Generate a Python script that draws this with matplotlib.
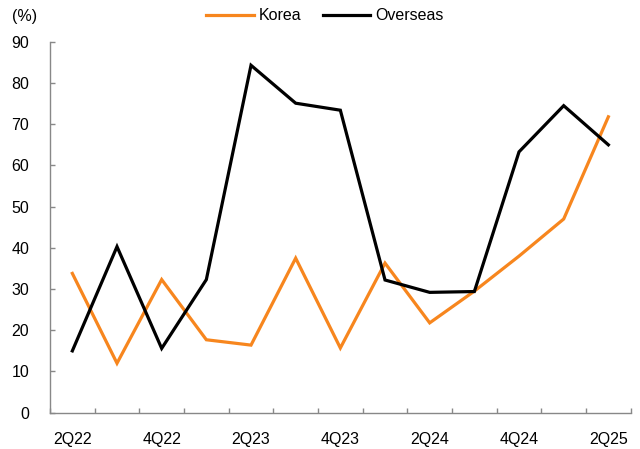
import matplotlib
matplotlib.use("Agg")
import matplotlib.pyplot as plt
import numpy as np

plt.rcParams['font.family'] = ['Liberation Sans', 'DejaVu Sans']

quarters = ["2Q22", "3Q22", "4Q22", "1Q23", "2Q23", "3Q23", "4Q23",
            "1Q24", "2Q24", "3Q24", "4Q24", "1Q25", "2Q25"]
korea = [33.8, 12.0, 32.3, 17.7, 16.4, 37.5, 15.7, 36.3, 21.8, 29.5, 38.0, 47.0, 71.8]
overseas = [15.0, 40.3, 15.6, 32.3, 84.3, 75.1, 73.4, 32.2, 29.2, 29.4, 63.3, 74.5, 65.0]
yticks = [0, 10, 20, 30, 40, 50, 60, 70, 80, 90]

fig = plt.figure(figsize=(6.4, 4.49), dpi=100)
ax = fig.add_axes([50/640, 1-412.7/449, 580.7/640, (412.7-41.8)/449])

x = np.arange(len(quarters))
ax.plot(x, korea, color='#F7861E', lw=2.3, label='Korea', solid_joinstyle='miter')
ax.plot(x, overseas, color='#000000', lw=2.3, label='Overseas', solid_joinstyle='miter')

ax.set_xlim(-0.5, len(quarters) - 0.5)
ax.set_ylim(0, 90)
ax.set_yticks(yticks)
ax.set_yticklabels([str(v) for v in yticks], fontsize=11.5)
ax.set_xticks(x[::2])
ax.set_xticklabels(quarters[::2], fontsize=11.5)
ax.set_xticks(np.arange(len(quarters) + 1) - 0.5, minor=True)
ax.tick_params(axis='x', which='major', length=0, pad=14)
ax.tick_params(axis='x', which='minor', direction='in', length=3.6, color='#888888', width=1)
ax.tick_params(axis='y', direction='in', length=3.3, color='#888888', width=1, pad=15)

for s in ['top', 'right']:
    ax.spines[s].set_visible(False)
for s in ['left', 'bottom']:
    ax.spines[s].set_color('#888888')
    ax.spines[s].set_linewidth(1)

fig.text(25/640, 1-17/449, "(%)", fontsize=11.5, ha='center', va='center')
fig.legend(loc='center', bbox_to_anchor=(325/640, 1-16/449), ncol=2, frameon=False,
           fontsize=11.5, handlelength=3.0, handletextpad=0.3, columnspacing=1.3)

fig.savefig("out.png", dpi=100)
